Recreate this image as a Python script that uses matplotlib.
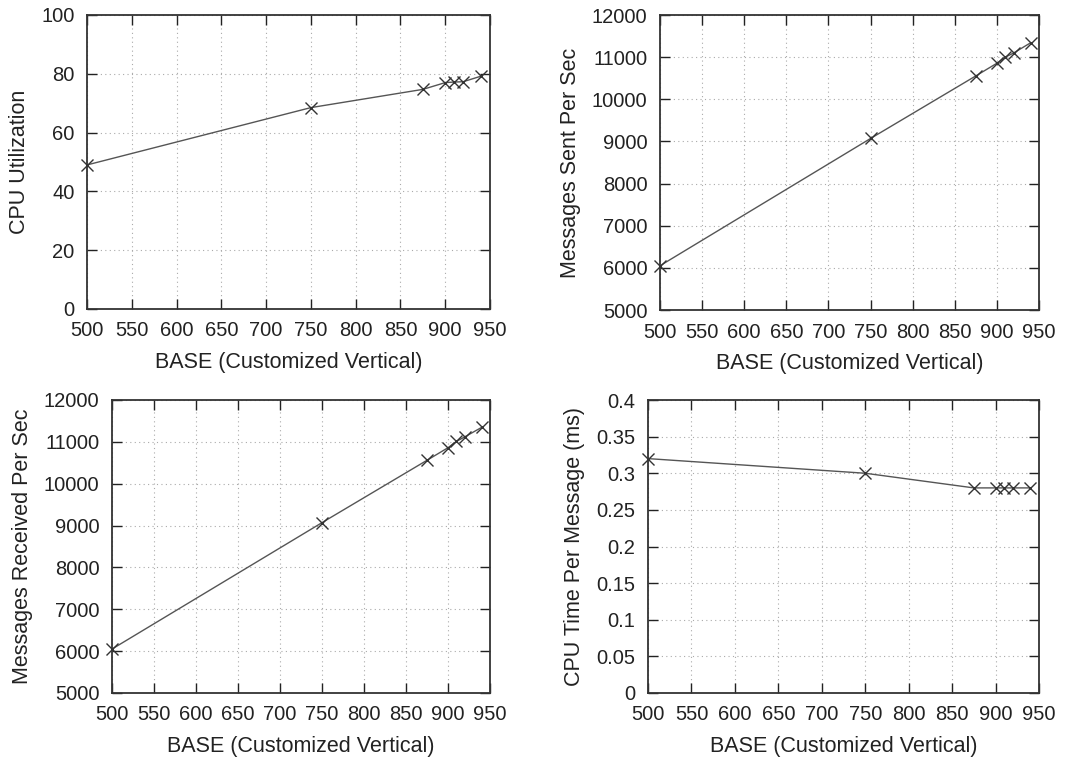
import matplotlib
matplotlib.use("Agg")
import matplotlib.pyplot as plt
import numpy as np

base = [500, 750, 875, 900, 910, 920, 940]
cpu_util = [49, 68.5, 74.7, 77.0, 77.2, 77.3, 79.2]
msg_sent = [6050, 9070, 10555, 10855, 11000, 11100, 11340]
msg_recv = [6050, 9070, 10560, 10860, 11010, 11120, 11345]
cpu_time = [0.32, 0.30, 0.28, 0.28, 0.28, 0.28, 0.28]

xlabel = "BASE (Customized Vertical)"
xticks = list(range(500, 951, 50))

panels = [
    dict(y=cpu_util, ylabel="CPU Utilization", ylim=(0, 100), yticks=list(range(0, 101, 20)),
         rect=[87/1065, 1-309/760, 403/1065, 294/760], fmt=None),
    dict(y=msg_sent, ylabel="Messages Sent Per Sec", ylim=(5000, 12000), yticks=list(range(5000, 12001, 1000)),
         rect=[660/1065, 1-310/760, 379/1065, 295/760], fmt=None),
    dict(y=msg_recv, ylabel="Messages Received Per Sec", ylim=(5000, 12000), yticks=list(range(5000, 12001, 1000)),
         rect=[112/1065, 1-693/760, 378/1065, 293/760], fmt=None),
    dict(y=cpu_time, ylabel="CPU Time Per Message (ms)", ylim=(0, 0.4),
         yticks=[0, 0.05, 0.1, 0.15, 0.2, 0.25, 0.3, 0.35, 0.4],
         rect=[648/1065, 1-693/760, 391/1065, 293/760], fmt="g"),
]

plt.rcParams['font.family'] = ['Liberation Sans', 'DejaVu Sans']
fig = plt.figure(figsize=(10.65, 7.6), dpi=100)

for p in panels:
    ax = fig.add_axes(p["rect"])
    ax.plot(base, p["y"], color="#555555", linewidth=1.0, marker="x",
            markersize=9, markeredgewidth=1.0, markeredgecolor="#333333",
            clip_on=False, zorder=3)
    ax.set_xlim(500, 950)
    ax.set_ylim(*p["ylim"])
    ax.set_xticks(xticks)
    ax.set_yticks(p["yticks"])
    if p["fmt"]:
        ax.set_yticklabels([("%g" % v) for v in p["yticks"]])
    ax.grid(True, linestyle=(0, (1, 3)), color="#aaaaaa", linewidth=0.8)
    ax.tick_params(direction="in", length=7, width=1.0, top=True, right=True,
                   labelsize=14.5, colors="#222222")
    ax.tick_params(axis="x", pad=9)
    ax.tick_params(axis="y", pad=9)
    for s in ax.spines.values():
        s.set_color("#333333")
        s.set_linewidth(1.3)
    ax.set_xlabel(xlabel, fontsize=15.5, color="#222222", labelpad=8)
    ax.set_ylabel(p["ylabel"], fontsize=15.5, color="#222222", labelpad=8)

fig.savefig("out.png", dpi=100)
